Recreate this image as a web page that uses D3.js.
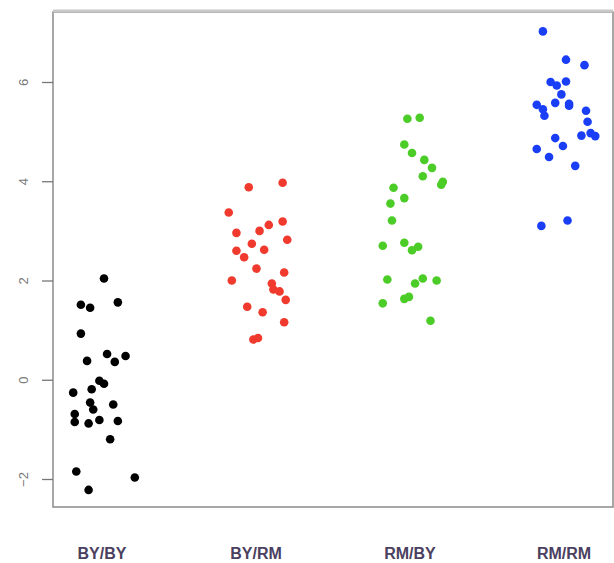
<!DOCTYPE html>
<html>
<head>
<meta charset="utf-8">
<script src="https://cdn.jsdelivr.net/npm/d3@7"></script>
<style>
    body { margin: 0; background: #fff; }
    svg { display: block; }
</style>
</head>
<body>
<svg></svg>
<script>
// groups, values, jitter in group units
const groups = ['BY/BY', 'BY/RM', 'RM/BY', 'RM/RM'];
const colors = ['#000000', '#ef3a2d', '#4ccc26', '#1a3ef5'];
const yTicks = [-2, 0, 2, 4, 6];

const byby = [2.04, 1.51, 1.45, 1.56, 0.93, 0.52, 0.48, 0.36, 0.38, -0.02, -0.08, -0.19, -0.26,
    -0.46, -0.6, -0.5, -0.69, -0.85, -0.88, -0.81, -0.83, -1.2, -1.85, -1.97, -2.22];
const bybyJit = [0, -0.15, -0.09, 0.09, -0.15, 0.02, 0.14, 0.07, -0.11, -0.03, 0, -0.08, -0.2,
    -0.09, -0.07, 0.06, -0.19, -0.19, -0.1, -0.03, 0.09, 0.04, -0.18, 0.2, -0.1];

const byrm = [3.88, 3.97, 3.37, 2.96, 3.0, 3.12, 3.19, 2.82, 2.74, 2.62, 2.6, 2.47, 2.24, 2.16,
    2.0, 1.94, 1.82, 1.78, 1.61, 1.47, 1.36, 1.16, 0.81, 0.84];
const byrmJit = [-0.06, 0.16, -0.19, -0.14, 0.01, 0.07, 0.16, 0.19, -0.04, 0.04, -0.14, -0.09,
    -0.01, 0.17, -0.17, 0.09, 0.1, 0.14, 0.18, -0.07, 0.03, 0.17, -0.03, 0];

const rmby = [5.26, 5.28, 4.74, 4.57, 4.43, 4.27, 4.1, 3.99, 3.93, 3.87, 3.66, 3.55, 3.21, 2.7,
    2.76, 2.61, 2.68, 2.02, 1.94, 2.04, 2.0, 1.54, 1.63, 1.67, 1.19];
const rmbyJit = [-0.03, 0.05, -0.05, 0, 0.08, 0.13, 0.07, 0.2, 0.19, -0.12, -0.05, -0.14, -0.13,
    -0.19, -0.05, 0, 0.04, -0.16, 0.02, 0.07, 0.16, -0.19, -0.05, -0.02, 0.12];

const rmrm = [7.02, 6.45, 6.34, 6.0, 5.93, 6.01, 5.75, 5.58, 5.56, 5.52, 5.54, 5.45, 5.32, 5.42,
    5.2, 4.97, 4.91, 4.92, 4.87, 4.71, 4.65, 4.49, 4.31, 3.21, 3.1];
const rmrmJit = [-0.15, 0, 0.12, -0.1, -0.06, 0, -0.03, -0.07, 0.02, 0.02, -0.19, -0.15, -0.14,
    0.13, 0.14, 0.16, 0.19, 0.1, -0.07, -0.02, -0.19, -0.11, 0.06, 0.01, -0.16];

const series = [
    [byby, bybyJit],
    [byrm, byrmJit],
    [rmby, rmbyJit],
    [rmrm, rmrmJit],
];

const width = 614;
const height = 563;
const boxLeft = 53;
const boxRight = 613;
const boxTop = 12;
const boxBottom = 507;

const svg = d3.select('svg').attr('width', width).attr('height', height);

// group position 1..4
const x = d3.scaleLinear().domain([1, 4]).range([104, 566]);
const y = d3.scaleLinear().domain([-2, 6]).range([479, 82]);

// plot box
svg.append('rect')
    .attr('x', boxLeft)
    .attr('y', boxTop)
    .attr('width', boxRight - boxLeft)
    .attr('height', boxBottom - boxTop)
    .attr('fill', 'none')
    .attr('stroke', '#8a8a8a')
    .attr('stroke-width', 1.5);
svg.append('line')
    .attr('x1', boxLeft).attr('x2', boxRight)
    .attr('y1', boxTop - 1).attr('y2', boxTop - 1)
    .attr('stroke', '#c8c8c8')
    .attr('stroke-width', 3);

// y axis, R style with rotated labels
const yAxis = svg.append('g')
    .attr('transform', `translate(${boxLeft},0)`)
    .call(d3.axisLeft(y).tickValues(yTicks).tickSize(11).tickPadding(0).tickFormat(d3.format('d')));
yAxis.select('.domain').remove();
yAxis.selectAll('line').attr('stroke', '#777').attr('stroke-width', 1.3);
yAxis.selectAll('text')
    .attr('fill', '#777')
    .attr('font-family', 'Liberation Sans, Arial, sans-serif')
    .attr('font-size', 13)
    .attr('text-anchor', 'middle')
    .attr('dy', null)
    .attr('x', null)
    .attr('transform', 'translate(-30,0) rotate(-90)')
    .attr('dominant-baseline', 'central');

// points
series.forEach(([vals, jit], i) => {
    svg.append('g')
        .selectAll('circle')
        .data(vals)
        .join('circle')
        .attr('cx', (d, j) => x(i + 1 + jit[j]))
        .attr('cy', (d) => y(d))
        .attr('r', 4.3)
        .attr('fill', colors[i]);
});

// category labels
svg.append('g')
    .selectAll('text')
    .data(groups)
    .join('text')
    .attr('x', (d, i) => x(i + 1) - 2)
    .attr('y', 559)
    .attr('text-anchor', 'middle')
    .attr('font-family', 'Liberation Sans, Arial, sans-serif')
    .attr('font-size', 16)
    .attr('font-weight', 'bold')
    .attr('fill', '#4a4060')
    .text((d) => d);
</script>
</body>
</html>
